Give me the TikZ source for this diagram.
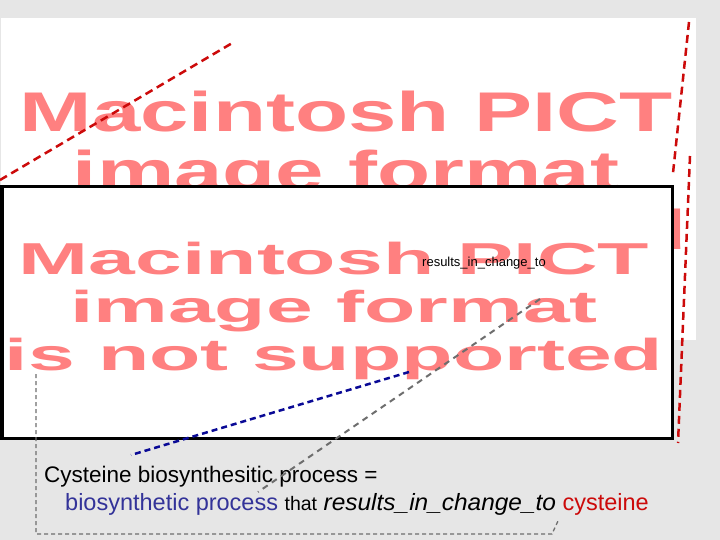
\documentclass[tikz,border=0pt]{standalone}
\usepackage{fontspec}
\setmainfont{Liberation Sans}
\definecolor{pictpink}{RGB}{255,128,128}
\definecolor{linkred}{RGB}{204,10,10}
\definecolor{isablue}{RGB}{10,10,150}
\definecolor{termblue}{RGB}{51,51,153}
\definecolor{pagegray}{RGB}{230,230,230}
\definecolor{dashgray}{RGB}{110,110,110}

\begin{document}
\begin{tikzpicture}[x=1bp,y=-1bp,
  every node/.style={inner sep=0pt,anchor=base},
  pictbig/.style={text=pictpink,font=\bfseries\fontsize{55.9bp}{60bp}\selectfont},
  pictsmall/.style={text=pictpink,font=\bfseries\fontsize{44.7bp}{50bp}\selectfont},
  reddash/.style={draw=linkred,line width=2.5bp,dash pattern=on 8bp off 5bp},
  bluedash/.style={draw=isablue,line width=2.5bp,dash pattern=on 6bp off 4bp},
  graydash/.style={draw=dashgray,line width=2bp,dash pattern=on 6bp off 5bp},
  bracket/.style={draw=dashgray,line width=1.3bp,dash pattern=on 4bp off 3bp}]
\useasboundingbox[fill=pagegray] (0,0) rectangle (720,540);

% first picture, half hidden
\fill[white] (1,18) rectangle (696,340);
\begin{scope}
\clip (1,18) rectangle (696,340);
\node[pictbig] (pictA1) at (346,132) {\scalebox{1.556}[1]{Macintosh PICT}};
\node[pictbig] (pictA2) at (346,191) {\scalebox{1.556}[1]{image format}};
\node[pictbig] (pictA3) at (346,250) {\scalebox{1.556}[1]{is not supported}};
\end{scope}

% second picture
\draw[fill=white,line width=3bp] (2,187) rectangle (672,438);
\node[pictsmall] (pictB1) at (334,275) {\scalebox{1.88}[1]{Macintosh PICT}};
\node[pictsmall] (pictB2) at (334,322) {\scalebox{1.88}[1]{image format}};
\node[pictsmall] (pictB3) at (334,370) {\scalebox{1.88}[1]{is not supported}};

\node[anchor=base west,font=\fontsize{13bp}{15bp}\selectfont] (relabel) at (422,267) {results\_in\_change\_to};

\node[anchor=base west,font=\fontsize{22.5bp}{26bp}\selectfont] (defline1) at (44,482)
  {Cysteine biosynthesitic process =};
\node[anchor=base west,font=\fontsize{23.5bp}{26bp}\selectfont] (defline2) at (65,510)
  {\textcolor{termblue}{biosynthetic process} {\fontsize{19.5bp}{22bp}\selectfont that}
   \scalebox{1.04}[1]{\itshape results\_in\_change\_to}
   \textcolor{linkred}{cysteine}};

% connectors
\coordinate (redA1) at (0,180);
\coordinate (redA2) at (234,42);
\coordinate (redB1) at (689,22);
\coordinate (redB2) at (673,173);
\coordinate (redC1) at (690,156);
\coordinate (redC2) at (678,443);
\coordinate (isa1) at (409,372);
\coordinate (isa2) at (131,455);
\coordinate (rel1) at (540,299);
\coordinate (rel2) at (258,492);
\coordinate (brk1) at (36,374);
\coordinate (brk2) at (36,534);
\coordinate (brk3) at (552,534);
\coordinate (brk4) at (558,521);
\draw[reddash] (redA1) -- (redA2);
\draw[reddash] (redB1) -- (redB2);
\draw[reddash] (redC1) -- (redC2);
\draw[bluedash] (isa1) -- (isa2);
\draw[graydash] (rel1) -- (rel2);
\draw[bracket] (brk1) -- (brk2) -- (brk3) -- (brk4);
\end{tikzpicture}
\end{document}
